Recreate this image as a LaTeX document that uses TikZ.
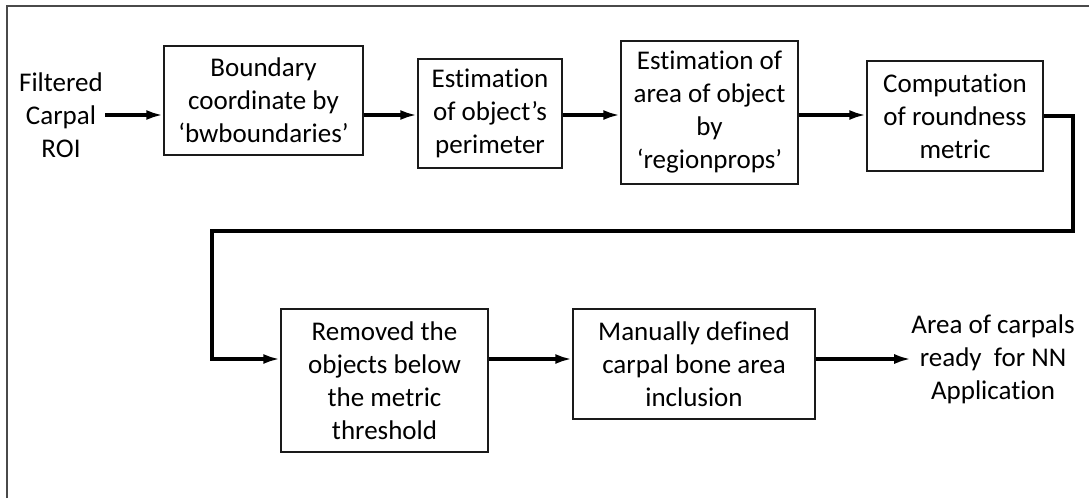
\documentclass[tikz,border=0pt]{standalone}
\usepackage{fontspec}
\setmainfont{Carlito}[Ligatures={TeX,NoCommon}]
\usepackage{xcolor}
\definecolor{lineDark}{HTML}{1A1A1A}
\definecolor{frameGray}{HTML}{4A4A4A}
\usetikzlibrary{positioning,calc,arrows.meta}
\tikzset{%
  stepBox/.style={%
    rectangle,
    draw=lineDark,
    line width=1.4pt,
    fill=white,
    inner sep=0pt,
    align=center,
    font=\fontsize{27}{33}\selectfont
  },
  plainText/.style={%
    inner sep=0pt,
    align=center,
    font=\fontsize{27}{33}\selectfont
  },
  flowArrow/.style={%
    -{Latex[length=17pt,width=10pt]},
    line width=4.5pt,
    color=black
  },
  frameLine/.style={%
    line width=2pt,
    color=frameGray
  }
}

\begin{document}
\begin{tikzpicture}[x=1pt,y=-1pt]
            \useasboundingbox (0,0) rectangle (1089,498);
            \draw[frameLine] (7,498) -- (7,6) -- (1089,6);

            % first row
            \node[plainText] (roi) at (61,115) {Filtered\\Carpal\\ROI};
            \node[stepBox, minimum width=199pt, minimum height=109pt] (bound) at (263.5,100.5) {Boundary\\coordinate by\\‘bwboundaries’};
            \node[stepBox, minimum width=144pt, minimum height=109pt] (perim) at (490,113.5) {Estimation\\of object’s\\perimeter};
            \node[stepBox, minimum width=177pt, minimum height=143pt] (area) at (709.5,112.5) {Estimation of\\area of object\\by\\‘regionprops’};
            \node[stepBox, minimum width=176pt, minimum height=110pt] (round) at (955,116) {Computation\\of roundness\\metric};

            % second row
            \node[stepBox, minimum width=207pt, minimum height=143pt] (remove) at (384.5,380.5) {Removed the\\objects below\\the metric\\threshold};
            \node[stepBox, minimum width=242pt, minimum height=110pt] (manual) at (694,364) {Manually defined\\carpal bone area\\inclusion};
            \node[plainText] (result) at (993,359) {Area of carpals\\ready\ \ for NN\\Application};

            \coordinate (rowA) at (0,115);
            \coordinate (rowB) at (0,359);
            \coordinate (turnA) at (1073,231);
            \coordinate (turnB) at (212,231);

            \draw[flowArrow] (roi.east |- rowA) ++(2,0) -- (bound.west |- rowA);
            \draw[flowArrow] (bound.east |- rowA) -- (perim.west |- rowA);
            \draw[flowArrow] (perim.east |- rowA) -- (area.west |- rowA);
            \draw[flowArrow] (area.east |- rowA) -- (round.west |- rowA);
            \draw[flowArrow] (round.east) -| (turnA) -- (turnB) |- (remove.west |- rowB);
            \draw[flowArrow] (remove.east |- rowB) -- (manual.west |- rowB);
            \draw[flowArrow] (manual.east |- rowB) -- (result.west |- rowB);
        \end{tikzpicture}
\end{document}
